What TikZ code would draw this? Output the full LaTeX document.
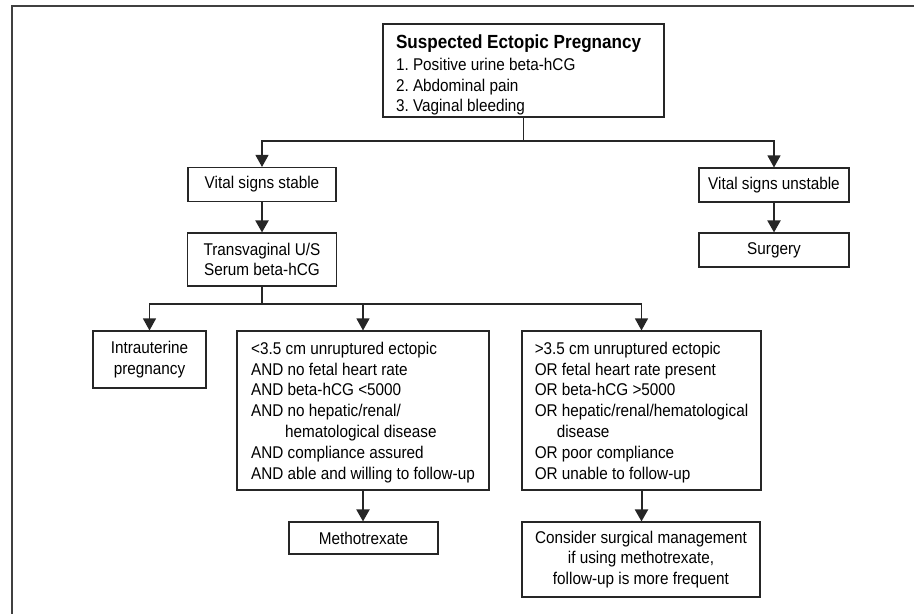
\documentclass[tikz,border=0pt]{standalone}
\usepackage{fontspec}
\setmainfont{Liberation Sans}[FakeStretch=0.9]
\usetikzlibrary{arrows.meta}
\definecolor{boxline}{HTML}{262626}
\definecolor{frameline}{HTML}{404040}
\frenchspacing
\begin{document}
\begin{tikzpicture}[x=1pt,y=-1pt,
  every node/.style={font=\fontsize{17}{20.8}\selectfont},
  box/.style={draw=boxline, line width=1.1pt, inner sep=0pt, align=center},
  listbox/.style={box, align=left},
  link/.style={draw=boxline, line width=1.1pt},
  arrowlink/.style={link, -{Triangle[width=13pt,length=12pt]}},
  thickarrow/.style={arrowlink, line width=2pt}
]
\useasboundingbox (0,0) rectangle (914,614);
% outer frame (top and left)
\draw[frameline, line width=2pt] (914,6) -- (12,6) -- (12,614);

% nodes
\node[box, align=flush left, minimum width=281pt, minimum height=93pt, inner xsep=13pt, text width=255pt] (top) at (523.5,70.5)
  {\rule{0pt}{23pt}{\bfseries\fontsize{19}{22}\selectfont Suspected Ectopic Pregnancy}\\[1pt]
   1. Positive urine beta-hCG\\
   2. Abdominal pain\\
   3. Vaginal bleeding};
\node[box, minimum width=148pt, minimum height=34pt] (stable) at (262,184.5) {Vital signs stable};
\node[box, minimum width=150pt, minimum height=34pt] (unstable) at (774,185) {Vital signs unstable};
\node[box, minimum width=150pt, minimum height=34pt] (surgery) at (774,250) {Surgery};
\node[box, minimum width=149pt, minimum height=53pt] (tv) at (262,259.5) {Transvaginal U/S\\Serum beta-hCG};
\node[box, minimum width=113pt, minimum height=57pt] (intra) at (149.5,359.5) {Intrauterine\\pregnancy};
\node[listbox, minimum width=252pt, minimum height=159pt] (mid) at (363,410.5)
  {\rule{0pt}{16pt}<3.5 cm unruptured ectopic\\
   AND no fetal heart rate\\
   AND beta-hCG <5000\\
   AND no hepatic/renal/\\
   \hspace*{34pt}hematological disease\\
   AND compliance assured\\
   AND able and willing to follow-up};
\node[listbox, minimum width=239pt, minimum height=159pt] (right) at (641.5,410.5)
  {\rule{0pt}{16pt}>3.5 cm unruptured ectopic\\
   OR fetal heart rate present\\
   OR beta-hCG >5000\\
   OR hepatic/renal/hematological\\
   \hspace*{22pt}disease\\
   OR poor compliance\\
   OR unable to follow-up};
\node[box, minimum width=149pt, minimum height=32pt] (metho) at (363.5,538) {Methotrexate};
\node[box, minimum width=238pt, minimum height=75pt] (consider) at (641,559.5)
  {Consider surgical management\\if using methotrexate,\\follow-up is more frequent};

% connectors
\coordinate (j1) at (523.5,141);
\draw[link] (top.south) -- (j1);
\draw[arrowlink] (j1) -| (stable.north);
\draw[arrowlink] (j1) -| (unstable.north);
\draw[thickarrow] (stable.south) -- (tv.north);
\draw[thickarrow] (unstable.south) -- (surgery.north);

\coordinate (j2) at (262,304);
\draw[link] (tv.south) -- (j2);
\draw[arrowlink] (j2) -| (intra.north);
\draw[arrowlink] (j2) -| (mid.north);
\draw[arrowlink] (j2) -| (right.north);
\draw[thickarrow] (mid.south) -- (mid.south |- metho.north);
\draw[thickarrow] (right.south) -- (right.south |- consider.north);
\end{tikzpicture}
\end{document}
